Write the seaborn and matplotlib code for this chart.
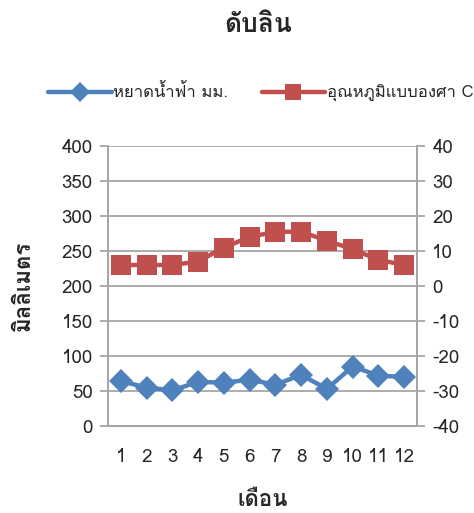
import numpy as np
import pandas as pd
import matplotlib
matplotlib.use("Agg")
import matplotlib.pyplot as plt
from matplotlib import font_manager
from matplotlib.ft2font import FT2Font
import seaborn as sns

months = [1, 2, 3, 4, 5, 6, 7, 8, 9, 10, 11, 12]
rain_mm = [64, 55, 51, 63, 62, 66, 59, 73, 53, 85, 72, 70]
temp_c = [6, 6, 6, 7, 11, 14, 15.5, 15.5, 13, 10.5, 7.5, 6]

title = "ดับลิน"
rain_label = "หยาดน้ำฟ้า มม."
temp_label = "อุณหภูมิแบบองศา C"
ylabel = "มิลลิเมตร"
xlabel = "เดือน"

sns.set_style("white")


def find_thai_font():
    # หาแบบอักษรที่มีอักษรไทย
    for f in font_manager.fontManager.ttflist:
        try:
            cmap = FT2Font(f.fname).get_charmap()
        except Exception:
            continue
        if 0x0E14 in cmap and 0x0E25 in cmap:
            return f.name
    return None


thai = find_thai_font()
families = ([thai] if thai else []) + ["DejaVu Sans"]
plt.rcParams["font.family"] = families
plt.rcParams["axes.unicode_minus"] = False

blue = "#4F81BD"
red = "#C0504D"
grid_c = "#A6A6A6"

df = pd.DataFrame({"pos": np.arange(len(months)), "rain": rain_mm, "temp": temp_c})

fig = plt.figure(figsize=(4.74, 5.13), dpi=100)
ax = fig.add_axes([108 / 474, 1 - 426 / 513, 309 / 474, 280 / 513])
ax2 = ax.twinx()

sns.lineplot(data=df, x="pos", y="rain", ax=ax, color=blue, marker="D", markersize=12,
             linewidth=3.2, markeredgewidth=0, label=rain_label, legend=False)
sns.lineplot(data=df, x="pos", y="temp", ax=ax2, color=red, marker="s", markersize=14,
             linewidth=3.2, markeredgewidth=0, label=temp_label, legend=False)

ax.set_ylim(0, 400)
ax.set_yticks(range(0, 401, 50))
ax2.set_ylim(-40, 40)
ax2.set_yticks(range(-40, 41, 10))
ax.set_xlim(-0.5, len(months) - 0.5)
ax.set_xticks(np.arange(-0.5, len(months), 1), minor=False)
ax.set_xticklabels([])
ax.set_xticks(np.arange(len(months)), minor=True)
ax.set_xticklabels([str(m) for m in months], minor=True)
ax.tick_params(axis="x", which="major", length=5, color=grid_c, width=1.3)
ax.tick_params(axis="x", which="minor", length=0, pad=16, labelsize=13.5)
ax.tick_params(axis="y", length=6, color=grid_c, width=1.3, labelsize=13.5, pad=5)
ax2.tick_params(axis="y", length=6, color=grid_c, width=1.3, labelsize=13.5, pad=5)

ax.yaxis.grid(True, color=grid_c, linewidth=1.3)
ax.set_axisbelow(True)
for a in (ax, ax2):
    for s in a.spines.values():
        s.set_color(grid_c)
        s.set_linewidth(1.3)
    a.spines["top"].set_visible(False)

ax.set_xlabel(xlabel, fontsize=16, fontweight="bold", labelpad=17)
ax.set_ylabel(ylabel, fontsize=16, fontweight="bold", labelpad=20)
ax2.set_ylabel("")
fig.suptitle(title, fontsize=19, fontweight="bold", x=258 / 474, y=1 - 25 / 513, va="center")

h1, l1 = ax.get_legend_handles_labels()
h2, l2 = ax2.get_legend_handles_labels()
fig.legend(h1 + h2, l1 + l2, loc="center", bbox_to_anchor=(0.55, 1 - 93 / 513), ncol=2,
           frameon=False, fontsize=12, handlelength=3.8, handletextpad=0.1, columnspacing=2.0,
           markerscale=0.85)

plt.savefig("out.png", dpi=100)
plt.close(fig)
